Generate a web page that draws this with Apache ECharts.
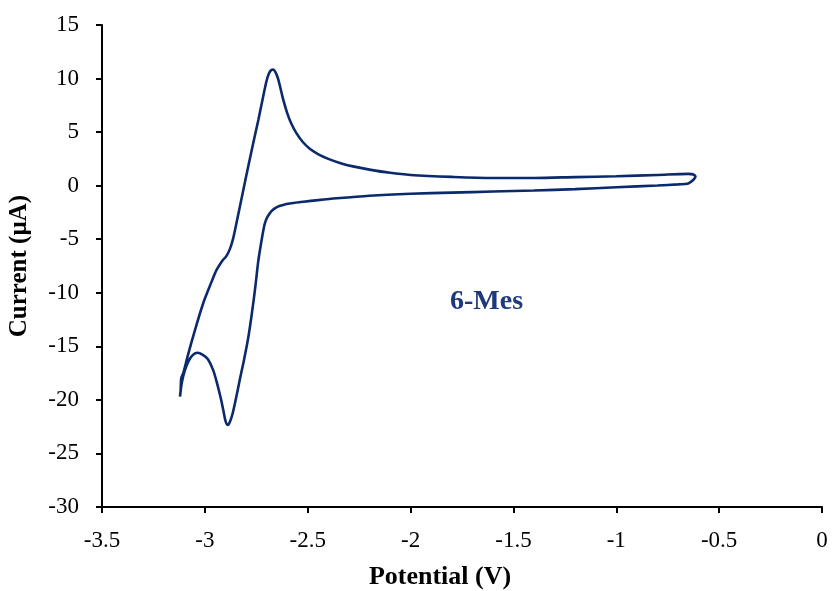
<!DOCTYPE html>
<html>
<head>
<meta charset="utf-8">
<script src="https://cdn.jsdelivr.net/npm/echarts@6/dist/echarts.min.js"></script>
<style>html,body{margin:0;padding:0;background:#fff}#c{width:832px;height:591px}</style>
</head>
<body>
<div id="c"></div>
<script>
// Forward (cathodic) sweep, from -0.62 V toward the vertex
const forwardPotential = [-0.625,-0.65,-0.7,-0.8,-1.0,-1.2,-1.4,-1.6,-1.8,-2.0,-2.2,-2.36,-2.45,-2.52,-2.58,-2.62,-2.65,-2.675,-2.695,-2.708,-2.716,-2.724,-2.74,-2.755,-2.772,-2.79,-2.81,-2.83,-2.848,-2.864,-2.877,-2.888,-2.899,-2.91,-2.922,-2.94,-2.96,-2.985,-3.01,-3.035,-3.058,-3.08,-3.098,-3.112,-3.121];
const forwardCurrent   = [0.55,0.2,0.12,0.02,-0.15,-0.32,-0.45,-0.55,-0.65,-0.76,-0.94,-1.18,-1.35,-1.5,-1.65,-1.8,-2.0,-2.35,-2.9,-3.5,-4.2,-5.07,-7.0,-9.5,-12.0,-14.3,-16.3,-18.1,-19.8,-21.2,-22.0,-22.35,-22.0,-21.0,-19.9,-18.5,-17.2,-16.2,-15.8,-15.6,-15.8,-16.4,-17.3,-18.4,-19.7];
// Return (anodic) sweep, from the vertex back to -0.62 V
const returnPotential  = [-3.118,-3.115,-3.105,-3.08,-3.048,-3.008,-2.967,-2.943,-2.915,-2.896,-2.878,-2.862,-2.84,-2.80,-2.76,-2.74,-2.72,-2.70,-2.688,-2.677,-2.667,-2.657,-2.646,-2.635,-2.62,-2.60,-2.58,-2.555,-2.525,-2.49,-2.45,-2.40,-2.34,-2.28,-2.2,-2.1,-2.0,-1.8,-1.6,-1.4,-1.2,-1.0,-0.8,-0.65,-0.625,-0.615,-0.625];
const returnCurrent    = [-19.2,-18.0,-17.5,-15.65,-13.48,-10.98,-8.96,-7.87,-7.0,-6.6,-5.9,-4.9,-2.9,0.8,4.4,6.13,8.0,9.8,10.5,10.8,10.85,10.6,10.1,9.3,8.1,6.8,5.8,4.9,4.1,3.45,2.95,2.5,2.1,1.8,1.5,1.2,1.0,0.82,0.72,0.72,0.8,0.88,1.0,1.1,1.05,0.85,0.55];

const xTicks = [-3.5,-3,-2.5,-2,-1.5,-1,-0.5,0];
const yTicks = [15,10,5,0,-5,-10,-15,-20,-25,-30];

const data = [];
forwardPotential.forEach((p,i)=>data.push([p,forwardCurrent[i]]));
returnPotential.forEach((p,i)=>data.push([p,returnCurrent[i]]));

const serif = '"Liberation Serif","Times New Roman",serif';
const chart = echarts.init(document.getElementById('c'));
chart.setOption({
  animation:false,
  grid:{left:102,right:10,top:25,bottom:84,containLabel:false,outerBoundsMode:'none'},
  xAxis:{
    type:'value',min:xTicks[0],max:xTicks[xTicks.length-1],interval:0.5,
    axisLine:{show:true,onZero:false,lineStyle:{color:'#000',width:2}},
    axisTick:{show:true,inside:false,length:6,lineStyle:{color:'#000',width:2}},
    splitLine:{show:false},
    axisLabel:{color:'#000',fontFamily:serif,fontSize:23,margin:22},
    name:'Potential (V)',nameLocation:'middle',nameGap:57,
    nameTextStyle:{color:'#000',fontFamily:serif,fontSize:26,fontWeight:'bold',padding:[0,44,0,0]}
  },
  yAxis:{
    type:'value',min:yTicks[yTicks.length-1],max:yTicks[0],interval:5,
    axisLine:{show:true,onZero:false,lineStyle:{color:'#000',width:2}},
    axisTick:{show:true,inside:false,length:6,lineStyle:{color:'#000',width:2}},
    splitLine:{show:false},
    axisLabel:{color:'#000',fontFamily:serif,fontSize:23,margin:23},
    name:'Current (µA)',nameLocation:'middle',nameGap:70,
    nameTextStyle:{color:'#000',fontFamily:serif,fontSize:25,fontWeight:'bold'}
  },
  series:[{
    type:'line',data:data,showSymbol:false,smooth:0.3,
    lineStyle:{color:'#0B2A6B',width:2.6}
  }],
  graphic:[{
    type:'text',left:450,top:288,
    style:{text:'6-Mes',fill:'#1F3A7A',font:'bold 28px '+serif}
  }]
});
</script>
</body>
</html>
